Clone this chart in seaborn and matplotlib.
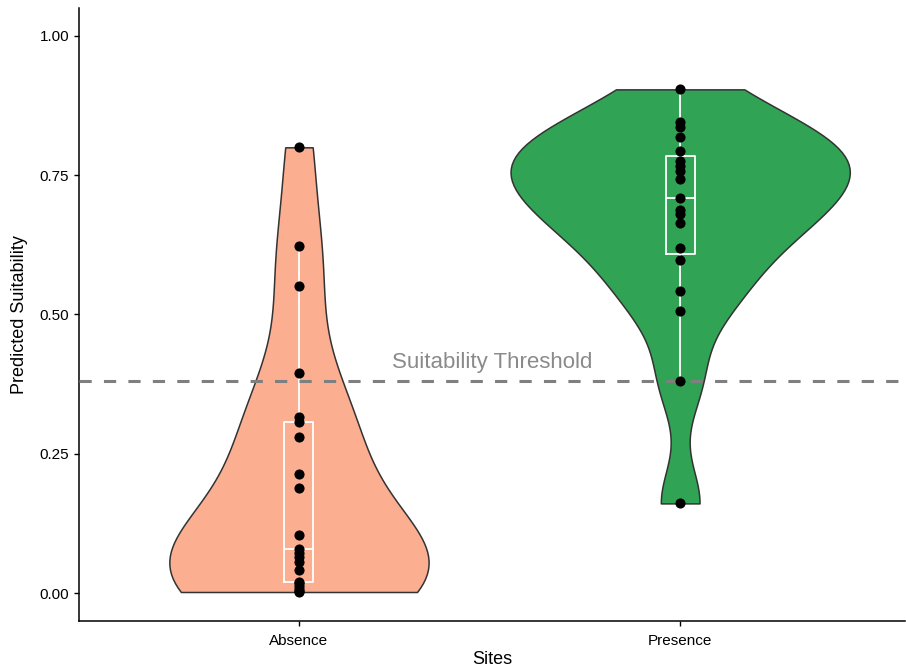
import numpy as np
import pandas as pd
import matplotlib
matplotlib.use("Agg")
import matplotlib.pyplot as plt
from matplotlib.ticker import FormatStrFormatter
import seaborn as sns

# Predicted habitat suitability per survey site group
sites = ["Absence", "Presence"]
absence_scores = [0.002, 0.004, 0.008, 0.012, 0.018, 0.020, 0.041, 0.056, 0.064, 0.072,
                  0.080, 0.104, 0.189, 0.214, 0.280, 0.307, 0.316, 0.395, 0.551, 0.623,
                  0.800]
presence_scores = [0.161, 0.381, 0.506, 0.542, 0.598, 0.619, 0.665, 0.680, 0.688, 0.709,
                   0.743, 0.757, 0.766, 0.775, 0.794, 0.818, 0.836, 0.845, 0.904]
threshold = 0.381
threshold_label = "Suitability Threshold"
site_colors = ["#FCAE91", "#31A354"]
y_ticks = [0.00, 0.25, 0.50, 0.75, 1.00]

df = pd.DataFrame({
    "Sites": [sites[0]] * len(absence_scores) + [sites[1]] * len(presence_scores),
    "Predicted Suitability": absence_scores + presence_scores,
})


def nrd0(kde):
    """Silverman's rule of thumb (R's bw.nrd0), as a factor of the sample sd."""
    x = np.asarray(kde.dataset).ravel()
    sd = x.std(ddof=1)
    q75, q25 = np.percentile(x, [75, 25])
    lo = min(sd, (q75 - q25) / 1.34)
    return 0.9 * lo * len(x) ** (-0.2) / sd


sns.set_theme(style="ticks")
plt.rcParams["font.family"] = ["Liberation Sans", "DejaVu Sans"]

fig = plt.figure(figsize=(9.06, 6.67), dpi=100)
ax = fig.add_axes([0.0872, 0.069, 0.9118, 0.919])

# one violin per group, each with its own maximum width
violin_widths = {"Absence": 0.68, "Presence": 0.89}
for site, colour in zip(sites, site_colors):
    sns.violinplot(
        data=df[df["Sites"] == site], x="Sites", y="Predicted Suitability",
        order=sites, color=colour, cut=0, width=violin_widths[site],
        inner=None, bw_method=nrd0, linewidth=1.1, linecolor="#333333",
        saturation=1, ax=ax,
    )

sns.boxplot(
    data=df, x="Sites", y="Predicted Suitability", order=sites,
    width=0.076, fill=False, color="white", linewidth=1.3,
    showcaps=False, showfliers=False, whis=1.5, ax=ax,
)

ax.axhline(threshold, color="#7f7f7f", lw=2.2, ls=(0, (4, 4)), zorder=3)
ax.text(0.507, 0.413, threshold_label, color="#8a8a8a", fontsize=16,
        ha="center", va="center", zorder=4)

sns.stripplot(
    data=df, x="Sites", y="Predicted Suitability", order=sites,
    jitter=False, color="black", size=7.3, linewidth=0, zorder=5, ax=ax,
)

ax.set_xlim(-0.577, 1.59)
ax.set_ylim(-0.05, 1.05)
ax.set_yticks(y_ticks)
ax.yaxis.set_major_formatter(FormatStrFormatter("%.2f"))
ax.tick_params(axis="both", labelsize=11, length=3.6, width=1.0, color="black",
               labelcolor="black")
ax.tick_params(axis="x", pad=6)
ax.set_xlabel("Sites", fontsize=13, color="black", labelpad=2)
ax.set_ylabel("Predicted Suitability", fontsize=13, color="black", labelpad=8)
for side in ("left", "bottom"):
    ax.spines[side].set_linewidth(1.1)
    ax.spines[side].set_color("black")
sns.despine(ax=ax)

fig.savefig("out.png", dpi=100)
